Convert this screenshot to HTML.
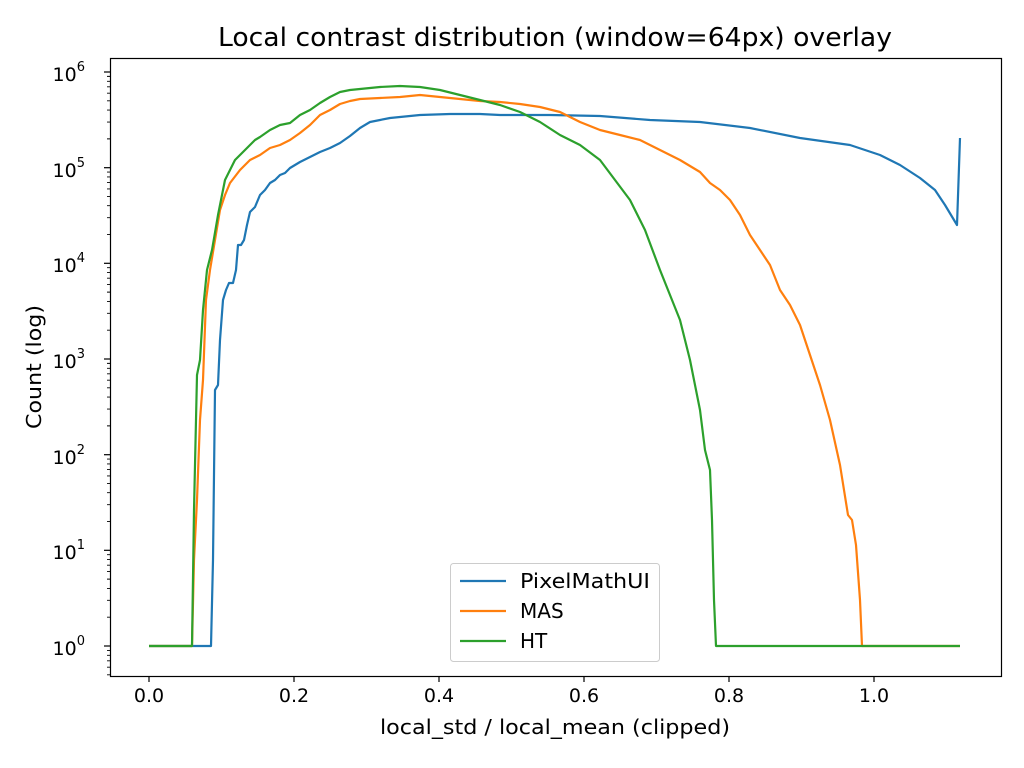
<!DOCTYPE html>
<html><head><meta charset="utf-8"><style>body{margin:0;background:#fff}svg{display:block}text{font-family:"DejaVu Sans","Liberation Sans",sans-serif;fill:#000}</style></head><body>
<svg width="1024" height="768" viewBox="0 0 1024 768" xmlns="http://www.w3.org/2000/svg">
<rect width="1024" height="768" fill="#fff"/>
<text x="555" y="46" font-size="26" text-anchor="middle" textLength="674" lengthAdjust="spacingAndGlyphs">Local contrast distribution (window=64px) overlay</text>
<g fill="none" stroke-width="2.2" stroke-linejoin="round">
<polyline stroke="#1f77b4" points="149,646 211,646 213,560 215,390 218,385 220,340 223,300 226,290 229,283 233,283 236,270 238,245 241,245 244,240 247,225 250,212 255,207 260,195 265,190 270,183 275,180 280,175 285,173 290,168 300,162 310,157 320,152 330,148 340,143 350,136 360,128 370,122 380,120 390,118 400,117 420,115 450,114 480,114 500,115 550,115 600,116 650,120 700,122 750,128 800,138 850,145 880,155 900,165 920,178 935,190 945,205 957,225 960,138"/>
<polyline stroke="#ff7f0e" points="149,646 192,646 194,560 197,500 200,420 203,380 206,300 210,270 215,240 220,210 225,195 230,183 240,170 250,160 260,155 270,148 280,145 290,140 300,133 310,125 320,115 330,110 340,104 350,101 360,99 380,98 400,97 420,95 440,97 460,99 480,101 500,102 520,104 540,107 560,112 580,122 600,130 620,135 640,140 660,150 680,160 700,172 710,183 720,190 730,200 740,215 750,235 760,250 770,265 780,290 790,305 800,325 810,355 820,385 830,420 840,465 848,515 852,520 856,545 860,600 862,646 960,646"/>
<polyline stroke="#2ca02c" points="149,646 192,646 194,510 197,375 200,360 203,310 207,270 212,250 218,215 225,180 235,160 245,150 255,140 260,137 270,130 280,125 290,123 300,115 310,110 320,103 330,97 340,92 350,90 360,89 380,87 400,86 420,87 440,90 460,95 480,100 500,105 520,112 540,122 560,135 580,145 600,160 615,180 630,200 645,230 660,270 670,295 680,320 690,360 700,410 705,450 710,470 712,520 714,600 716,646 960,646"/>
</g>
<rect x="110.5" y="58.5" width="891" height="618" fill="none" stroke="#000" stroke-width="1.2"/>
<g stroke="#000" stroke-width="1.2">
<line x1="149" y1="677" x2="149" y2="682"/><line x1="294" y1="677" x2="294" y2="682"/><line x1="439" y1="677" x2="439" y2="682"/><line x1="584" y1="677" x2="584" y2="682"/><line x1="729" y1="677" x2="729" y2="682"/><line x1="874" y1="677" x2="874" y2="682"/>
<line x1="104" y1="646" x2="110" y2="646"/><line x1="104" y1="550.3" x2="110" y2="550.3"/><line x1="104" y1="454.7" x2="110" y2="454.7"/><line x1="104" y1="359" x2="110" y2="359"/><line x1="104" y1="263.3" x2="110" y2="263.3"/><line x1="104" y1="167.7" x2="110" y2="167.7"/><line x1="104" y1="72" x2="110" y2="72"/>
</g>
<path stroke="#000" stroke-width="0.9" fill="none" d="M107 650.4h3M107 655.3h3M107 660.8h3M107 667.2h3M107 674.8h3
M107 617.2h3M107 600.35h3M107 588.4h3M107 579.13h3M107 571.56h3M107 565.15h3M107 559.6h3M107 554.71h3
M107 521.53h3M107 504.68h3M107 492.73h3M107 483.46h3M107 475.89h3M107 469.48h3M107 463.93h3M107 459.04h3
M107 425.87h3M107 409.02h3M107 397.07h3M107 387.8h3M107 380.23h3M107 373.82h3M107 368.27h3M107 363.38h3
M107 330.2h3M107 313.35h3M107 301.4h3M107 292.13h3M107 284.56h3M107 278.15h3M107 272.6h3M107 267.71h3
M107 234.53h3M107 217.68h3M107 205.73h3M107 196.46h3M107 188.89h3M107 182.48h3M107 176.93h3M107 172.04h3
M107 138.87h3M107 122.02h3M107 110.07h3M107 100.8h3M107 93.23h3M107 86.82h3M107 81.27h3M107 76.38h3"/>
<g font-size="19" text-anchor="middle">
<text x="149" y="702">0.0</text><text x="294" y="702">0.2</text><text x="439" y="702">0.4</text><text x="584" y="702">0.6</text><text x="729" y="702">0.8</text><text x="874" y="702">1.0</text>
</g>
<g font-size="19" text-anchor="end">
<text x="85" y="655">10<tspan dy="-10" font-size="13">0</tspan></text>
<text x="85" y="559">10<tspan dy="-10" font-size="13">1</tspan></text>
<text x="85" y="464">10<tspan dy="-10" font-size="13">2</tspan></text>
<text x="85" y="368">10<tspan dy="-10" font-size="13">3</tspan></text>
<text x="85" y="272">10<tspan dy="-10" font-size="13">4</tspan></text>
<text x="85" y="177">10<tspan dy="-10" font-size="13">5</tspan></text>
<text x="85" y="81">10<tspan dy="-10" font-size="13">6</tspan></text>
</g>
<text x="555" y="734" font-size="20" text-anchor="middle" textLength="350" lengthAdjust="spacingAndGlyphs">local_std / local_mean (clipped)</text>
<text transform="translate(41,367) rotate(-90)" font-size="20" text-anchor="middle" textLength="124" lengthAdjust="spacingAndGlyphs">Count (log)</text>
<rect x="450.5" y="563.5" width="209" height="98" rx="3" fill="#fff" stroke="#ccc"/>
<g stroke-width="2.2"><line x1="460" y1="581" x2="506" y2="581" stroke="#1f77b4"/><line x1="460" y1="611" x2="506" y2="611" stroke="#ff7f0e"/><line x1="460" y1="641" x2="506" y2="641" stroke="#2ca02c"/></g>
<g font-size="20"><text x="520" y="588" textLength="130" lengthAdjust="spacingAndGlyphs">PixelMathUI</text><text x="520" y="618">MAS</text><text x="520" y="648">HT</text></g>
</svg>
</body></html>
